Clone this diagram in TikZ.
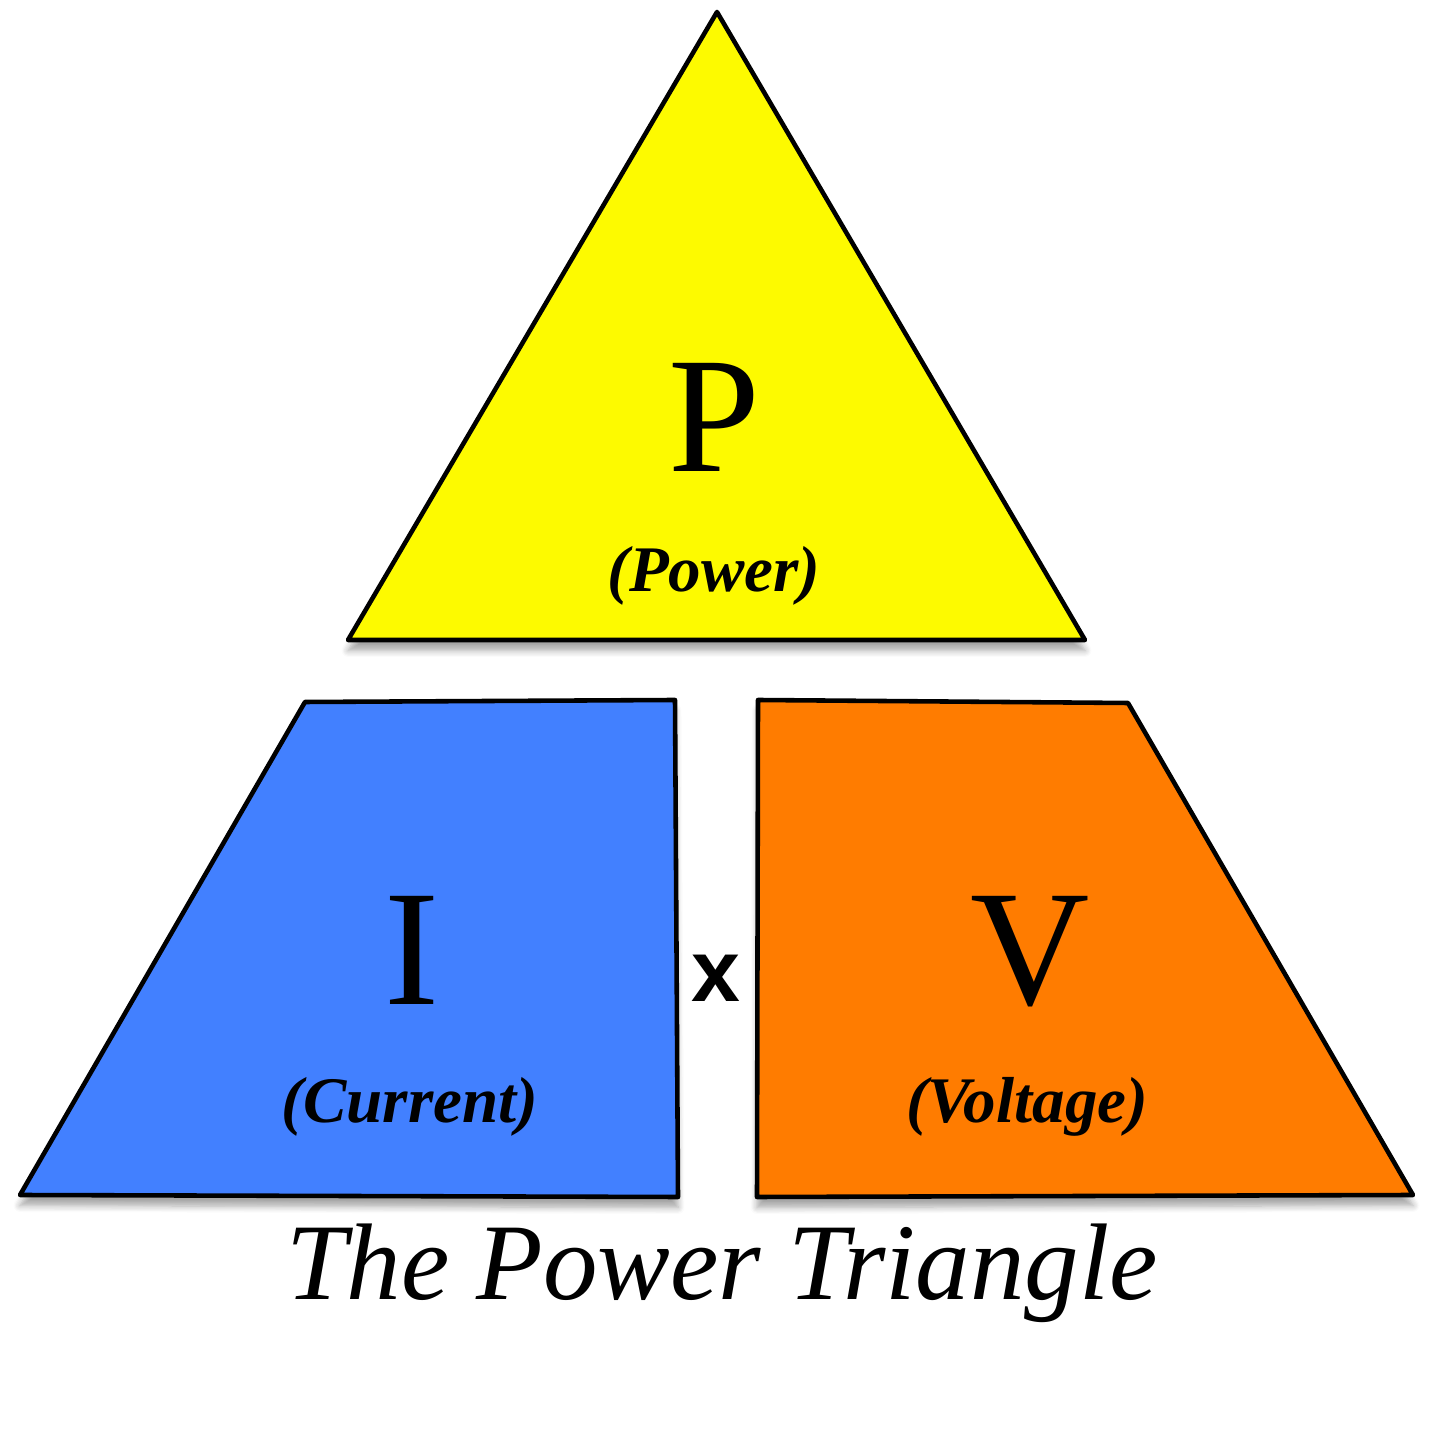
\documentclass[tikz,border=0pt]{standalone}
\usepackage{fontspec}
\setmainfont{Liberation Serif}
\newfontfamily\symbfont{Liberation Sans}
\usepackage{xcolor}
\usetikzlibrary{positioning,shadows.blur}

\definecolor{pyellow}{RGB}{253,250,0}
\definecolor{pblue}{RGB}{66,128,255}
\definecolor{porange}{RGB}{255,124,0}

\begin{document}
\begin{tikzpicture}[
    part/.style={draw=black, line width=1.3pt, line join=round,
      blur shadow={shadow xshift=0pt, shadow yshift=-3pt, shadow blur steps=6, shadow opacity=35}},
    big/.style={font=\fontsize{47}{47}\selectfont, anchor=base},
    word/.style={font=\fontsize{18.5}{18.5}\selectfont\bfseries\itshape, anchor=base}
  ]
  \useasboundingbox (0,0) rectangle (14.33,14.46);

  % top triangle
  \filldraw[part,fill=pyellow] (7.17,14.34) -- (10.85,8.06) -- (3.48,8.06) -- cycle;
  \node[big] (p) at (7.14,9.74) {P};
  \node[word] (pw) at (7.14,8.54) {(Power)};

  % lower left and lower right
  \filldraw[part,fill=pblue] (3.05,7.44) -- (6.75,7.46) -- (6.78,2.49) -- (0.20,2.51) -- cycle;
  \filldraw[part,fill=porange] (7.58,7.46) -- (11.28,7.43) -- (14.13,2.51) -- (7.57,2.49) -- cycle;
  \node[big] (i) at (4.12,4.41) {I};
  \node[word] (cur) at (4.10,3.23) {(Current)};
  \node[big] (v) at (10.30,4.41) {V};
  \node[word] (volt) at (10.27,3.23) {(Voltage)};

  \node[font=\symbfont\bfseries\fontsize{25}{25}\selectfont] (times) at (7.16,4.68) {x};

  % caption
  \node[anchor=base,font=\fontsize{31}{31}\selectfont\itshape] (title) at (7.22,1.46) {The Power Triangle};
\end{tikzpicture}
\end{document}
